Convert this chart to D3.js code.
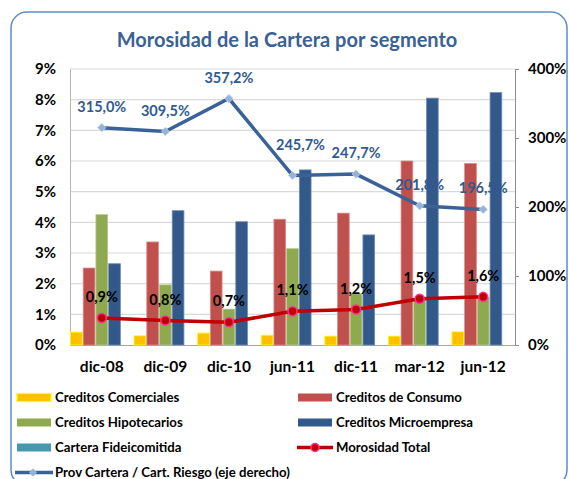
<!DOCTYPE html>
<html>
<head>
<meta charset="utf-8">
<script src="https://cdn.jsdelivr.net/npm/d3@7"></script>
<style>
  body { margin: 0; background: #fff; }
  svg { display: block; font-family: Lato, "Open Sans", sans-serif; }
</style>
</head>
<body>
<svg width="569" height="479"></svg>
<script>
const width = 569;
const height = 479;

// values (left axis in %, right axis in %)
const categories = ['dic-08', 'dic-09', 'dic-10', 'jun-11', 'dic-11', 'mar-12', 'jun-12'];
const comerciales = [0.42, 0.30, 0.39, 0.32, 0.29, 0.29, 0.43];
const consumo = [2.51, 3.36, 2.41, 4.10, 4.30, 6.00, 5.92];
const hipotecarios = [4.25, 1.96, 1.17, 3.14, 1.67, 1.50, 1.55];
const microempresa = [2.65, 4.38, 4.02, 5.71, 3.59, 8.05, 8.23];
const fideicomitida = [0, 0, 0, 0, 0, 0, 0];
const morosidadTotal = [0.88, 0.80, 0.74, 1.10, 1.16, 1.51, 1.57];
const provCartera = [315.0, 309.5, 357.2, 245.7, 247.7, 201.8, 196.5];
const leftTicks = [0, 1, 2, 3, 4, 5, 6, 7, 8, 9];
const rightTicks = [0, 100, 200, 300, 400];

const series = [
    { name: 'Creditos Comerciales', values: comerciales, fill: '#ffc000', stroke: '#ffff00' },
    { name: 'Creditos de Consumo', values: consumo, fill: '#c0504d', stroke: '#d98a88' },
    { name: 'Creditos Hipotecarios', values: hipotecarios, fill: '#8ea94f', stroke: '#b5c98a' },
    { name: 'Creditos Microempresa', values: microempresa, fill: '#33598a', stroke: '#6f8db3' },
    { name: 'Cartera Fideicomitida', values: fideicomitida, fill: '#4598ad', stroke: '#4598ad' }
];

const svg = d3.select('svg');
const margin = { top: 69, bottom: 134, left: 70, right: 54 };
const innerWidth = width - margin.left - margin.right;
const innerHeight = height - margin.top - margin.bottom;

// chart frame
svg.append('rect')
    .attr('x', 11).attr('y', 12)
    .attr('width', 556).attr('height', 474)
    .attr('rx', 16)
    .attr('fill', 'none')
    .attr('stroke', '#5f8cc8')
    .attr('stroke-width', 1.5);

svg.append('text')
    .text('Morosidad de la Cartera por segmento')
    .attr('x', 287)
    .attr('y', 47)
    .attr('text-anchor', 'middle')
    .attr('fill', '#3a6195')
    .attr('font-weight', 'bold')
    .attr('font-size', 20);

const g = svg.append('g')
    .attr('transform', 'translate(' + margin.left + ', ' + margin.top + ')');

const xScale = d3.scaleBand()
    .domain(categories)
    .range([0, innerWidth])
    .padding(0);

const xInner = d3.scaleBand()
    .domain(series.map(s => s.name))
    .range([0, xScale.bandwidth()])
    .padding(0);

const yLeft = d3.scaleLinear().domain([0, 9]).range([innerHeight, 0]);
const yRight = d3.scaleLinear().domain([0, 400]).range([innerHeight, 0]);

// gridlines
g.selectAll('.grid')
    .data(leftTicks.filter(t => t > 0))
    .enter().append('line')
    .attr('x1', 0).attr('x2', innerWidth)
    .attr('y1', d => yLeft(d)).attr('y2', d => yLeft(d))
    .attr('stroke', '#d9d9d9')
    .attr('stroke-width', 1.2);

// left axis
const yAxisLeft = d3.axisLeft(yLeft)
    .tickValues(leftTicks)
    .tickSize(0)
    .tickPadding(14)
    .tickFormat(d => d + '%');
const yAxisLeftG = g.append('g').call(yAxisLeft);
yAxisLeftG.select('.domain').attr('stroke', '#b3b3b3');
yAxisLeftG.selectAll('text')
    .attr('font-size', 15).attr('font-weight', 'bold')
    .attr('font-family', 'Lato').attr('fill', '#000');

// right axis
const yAxisRight = d3.axisRight(yRight)
    .tickValues(rightTicks)
    .tickSizeInner(4)
    .tickSizeOuter(0)
    .tickPadding(9)
    .tickFormat(d => d + '%');
const yAxisRightG = g.append('g')
    .attr('transform', 'translate(' + innerWidth + ', 0)')
    .call(yAxisRight);
yAxisRightG.select('.domain').attr('stroke', '#8c8c8c');
yAxisRightG.selectAll('line').attr('stroke', '#8c8c8c');
yAxisRightG.selectAll('text')
    .attr('font-size', 15).attr('font-weight', 'bold')
    .attr('font-family', 'Lato').attr('fill', '#000');

// bottom axis
const xAxis = d3.axisBottom(xScale).tickSize(0).tickPadding(16);
const xAxisG = g.append('g')
    .attr('transform', 'translate(0, ' + innerHeight + ')')
    .call(xAxis);
xAxisG.select('.domain').attr('stroke', '#a6a6a6');
xAxisG.selectAll('text')
    .attr('font-size', 15.5).attr('font-weight', 'bold')
    .attr('font-family', 'Lato').attr('fill', '#000');

// bars
const catG = g.selectAll('.cat')
    .data(categories)
    .enter().append('g')
    .attr('transform', d => 'translate(' + xScale(d) + ', 0)');

catG.selectAll('rect')
    .data((c, i) => series.map(s => ({ s, v: s.values[i] })))
    .enter().append('rect')
    .filter(d => d.v > 0)
    .attr('x', d => xInner(d.s.name) + 0.5)
    .attr('width', xInner.bandwidth() - 1)
    .attr('y', d => yLeft(d.v))
    .attr('height', d => innerHeight - yLeft(d.v))
    .attr('fill', d => d.s.fill)
    .attr('stroke', d => d.s.stroke)
    .attr('stroke-width', 0.8);

const cx = i => xScale(categories[i]) + xScale.bandwidth() / 2;

// Morosidad Total line
const lineMor = d3.line()
    .x((d, i) => cx(i))
    .y(d => yLeft(d));
g.append('path')
    .datum(morosidadTotal)
    .attr('d', lineMor)
    .attr('fill', 'none')
    .attr('stroke', '#c00000')
    .attr('stroke-width', 3.5);
g.selectAll('.mor-dot')
    .data(morosidadTotal)
    .enter().append('circle')
    .attr('cx', (d, i) => cx(i))
    .attr('cy', d => yLeft(d))
    .attr('r', 4.5)
    .attr('fill', '#c00000')
    .attr('stroke', '#ff2f92')
    .attr('stroke-width', 1.5);

// Prov Cartera line (right axis)
const lineProv = d3.line()
    .x((d, i) => cx(i))
    .y(d => yRight(d));
g.append('path')
    .datum(provCartera)
    .attr('d', lineProv)
    .attr('fill', 'none')
    .attr('stroke', '#3a6299')
    .attr('stroke-width', 3.5);
const diamond = d3.symbol().type(d3.symbolSquare).size(34);
g.selectAll('.prov-dot')
    .data(provCartera)
    .enter().append('path')
    .attr('d', diamond)
    .attr('transform', (d, i) => 'translate(' + cx(i) + ', ' + yRight(d) + ') rotate(45)')
    .attr('fill', '#95b3d7')
    .attr('stroke', '#b9cde5')
    .attr('stroke-width', 0.8);

// data labels
const fmt = v => d3.format('.1f')(v).replace('.', ',') + '%';
const provNudge = { 'jun-11': [8, -10] };

g.selectAll('.prov-label')
    .data(provCartera)
    .enter().append('text')
    .text(d => fmt(d))
    .attr('x', (d, i) => cx(i) + (provNudge[categories[i]] || [0, 0])[0])
    .attr('y', (d, i) => yRight(d) - 21 + (provNudge[categories[i]] || [0, 0])[1])
    .attr('dy', '0.35em')
    .attr('text-anchor', 'middle')
    .attr('font-size', 14.5)
    .attr('font-weight', 'bold')
    .attr('fill', '#2f5a92');

g.selectAll('.mor-label')
    .data(morosidadTotal)
    .enter().append('text')
    .text(d => fmt(d))
    .attr('x', (d, i) => cx(i))
    .attr('y', d => yLeft(d) - 21)
    .attr('dy', '0.35em')
    .attr('text-anchor', 'middle')
    .attr('font-size', 14.5)
    .attr('font-weight', 'bold')
    .attr('fill', '#000');

// legend
const legendItems = [
    { name: 'Creditos Comerciales', type: 'bar', fill: '#ffc000', stroke: '#ffff00' },
    { name: 'Creditos de Consumo', type: 'bar', fill: '#c0504d' },
    { name: 'Creditos Hipotecarios', type: 'bar', fill: '#8ea94f' },
    { name: 'Creditos Microempresa', type: 'bar', fill: '#33598a' },
    { name: 'Cartera Fideicomitida', type: 'bar', fill: '#4598ad' },
    { name: 'Morosidad Total', type: 'mor' },
    { name: 'Prov Cartera / Cart. Riesgo (eje derecho)', type: 'prov' }
];

const legend = svg.append('g');
const legendG = legend.selectAll('g')
    .data(legendItems)
    .enter().append('g')
    .attr('transform', (d, i) => 'translate(' + (i % 2 === 0 ? 17 : 298) + ', ' + (397.5 + Math.floor(i / 2) * 25) + ')');

legendG.filter(d => d.type === 'bar')
    .append('rect')
    .attr('x', 0).attr('y', -4)
    .attr('width', 34).attr('height', 8)
    .attr('fill', d => d.fill)
    .attr('stroke', d => d.stroke || 'none')
    .attr('stroke-width', 1.2);

legendG.filter(d => d.type === 'mor').each(function() {
    const s = d3.select(this);
    s.append('line').attr('x1', -1).attr('x2', 35).attr('y1', 0).attr('y2', 0)
        .attr('stroke', '#c00000').attr('stroke-width', 3.5);
    s.append('circle').attr('cx', 17).attr('cy', 0).attr('r', 4)
        .attr('fill', '#c00000').attr('stroke', '#ff2f92').attr('stroke-width', 1.5);
});

legendG.filter(d => d.type === 'prov').each(function() {
    const s = d3.select(this);
    s.append('line').attr('x1', -2).attr('x2', 36).attr('y1', 0).attr('y2', 0)
        .attr('stroke', '#3a6299').attr('stroke-width', 3.5);
    s.append('path').attr('d', diamond)
        .attr('transform', 'translate(16, 0) rotate(45)')
        .attr('fill', '#95b3d7');
});

legendG.append('text')
    .text(d => d.name)
    .attr('x', 38)
    .attr('dy', '0.35em')
    .attr('font-size', 13.2)
    .attr('font-weight', 'bold')
    .attr('fill', '#000');
</script>
</body>
</html>
